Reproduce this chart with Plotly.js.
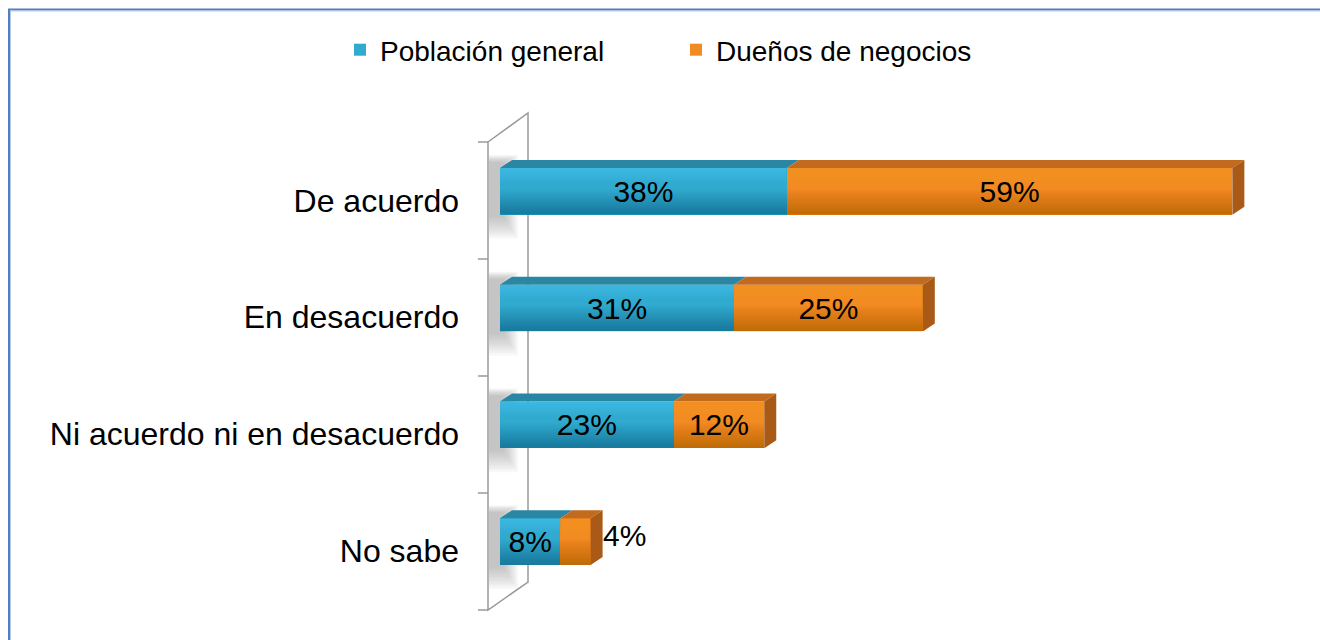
<!DOCTYPE html>
<html>
<head>
<meta charset="utf-8">
<script src="https://cdn.plot.ly/plotly-3.0.1.min.js"></script>
<style>
  html, body { margin: 0; padding: 0; background: #ffffff; }
  #chart { width: 1320px; height: 640px; }
</style>
</head>
<body>
<div id="chart"></div>
<script>
// ---- data ----
const categories = ["De acuerdo", "En desacuerdo", "Ni acuerdo ni en desacuerdo", "No sabe"];
const seriesNames = ["Población general", "Dueños de negocios"];
const poblacionGeneral = [38, 31, 23, 8];
const duenosNegocios = [59, 25, 12, 4];
const duenosLabelOutside = [false, false, false, true];

// ---- layout geometry (pixels) ----
const FIG_W = 1320, FIG_H = 640;
const L = 500, T = 133, W = 755, H = 467;
const X_MAX = 100;
const BARGAP = 0.6;
const DEPTH_X = 12, DEPTH_Y = 8;

const band = H / categories.length;
const halfBar = (1 - BARGAP) * band / 2;
const pxPerUnit = W / X_MAX;
const dx = DEPTH_X / pxPerUnit;

function pX(p) { return (p - L) / W; }
function pY(p) { return 1 - (p - T) / H; }
function yCenter(i) { return T + (i + 0.5) * band; }

const BLUE = "#31aacf", BLUE_TOP = "#2a86a2", BLUE_HI = "#44c8ee";
const ORANGE = "#f28b21", ORANGE_TOP = "#c26a1e", ORANGE_SIDE = "#a95a17", ORANGE_HI = "#ff9f30";

const shapes = [];

// page border (top + left)
shapes.push({type: "path", xref: "paper", yref: "paper", layer: "below",
  path: `M ${pX(9)},${pY(FIG_H + 5)} L ${pX(9)},${pY(9.5)} L ${pX(FIG_W + 5)},${pY(9.5)}`,
  line: {color: "#4f7fc0", width: 2}});
shapes.push({type: "path", xref: "paper", yref: "paper", layer: "below",
  path: `M ${pX(10.5)},${pY(FIG_H + 5)} L ${pX(10.5)},${pY(11)} L ${pX(FIG_W + 5)},${pY(11)}`,
  line: {color: "#b7cbe8", width: 1}});

// wall shadows behind bars (soft)
categories.forEach((c, i) => {
  const yc = yCenter(i);
  for (let k = 0; k < 10; k++) {
    shapes.push({type: "rect", xref: "paper", yref: "paper", layer: "below",
      x0: pX(489), x1: pX(500 + 18 - k * 1.6),
      y0: pY(yc - halfBar - DEPTH_Y - 5 + k * 0.8), y1: pY(yc + halfBar + 24 - k * 2.4),
      fillcolor: "#7a7a7a", opacity: 0.055, line: {width: 0}});
  }
});

// 3D wall outline
const wallFront = 488, wallBack = 528;
const wallTopF = 142, wallBotF = 610, wallTopB = 113, wallBotB = 582;
shapes.push({type: "path", xref: "paper", yref: "paper", layer: "below",
  path: `M ${pX(wallFront)},${pY(wallTopF)} L ${pX(wallBack)},${pY(wallTopB)} L ${pX(wallBack)},${pY(wallBotB)} L ${pX(wallFront)},${pY(wallBotF)} Z`,
  line: {color: "#9a9a9a", width: 1.5}});
for (let k = 0; k <= categories.length; k++) {
  const yy = wallTopF + k * (wallBotF - wallTopF) / categories.length;
  shapes.push({type: "line", xref: "paper", yref: "paper", layer: "below",
    x0: pX(wallFront - 10), x1: pX(wallFront), y0: pY(yy), y1: pY(yy),
    line: {color: "#9a9a9a", width: 1.5}});
}

// 3D faces and shading of bars (built from data)
const annotations = [];
categories.forEach((c, i) => {
  const yc = yCenter(i);
  const top = yc - halfBar, bot = yc + halfBar;
  const yT = pY(top), yT2 = pY(top - DEPTH_Y);
  const yB = pY(bot), yB2 = pY(bot - DEPTH_Y);
  const s0 = 0, s1 = poblacionGeneral[i], s2 = poblacionGeneral[i] + duenosNegocios[i];
  // front face: smooth lighter upper part
  for (let k = 0; k < 14; k++) {
    shapes.push({type: "rect", xref: "x", yref: "paper", layer: "above",
      x0: s0, x1: s1, y0: pY(top), y1: pY(top + 1 + k),
      fillcolor: BLUE_HI, opacity: 0.07, line: {width: 0}});
    shapes.push({type: "rect", xref: "x", yref: "paper", layer: "above",
      x0: s1, x1: s2, y0: pY(top), y1: pY(top + 1 + k),
      fillcolor: ORANGE_HI, opacity: 0.07, line: {width: 0}});
  }
  // smooth darker gradient toward the bottom
  for (let k = 0; k < 26; k++) {
    shapes.push({type: "rect", xref: "x", yref: "paper", layer: "above",
      x0: s0, x1: s2, y0: pY(bot - 1 - k), y1: pY(bot),
      fillcolor: "#000000", opacity: 0.008, line: {width: 0}});
  }
  // top faces
  shapes.push({type: "path", xref: "x", yref: "paper", layer: "above",
    path: `M ${s0},${yT} L ${s1},${yT} L ${s1 + dx},${yT2} L ${s0 + dx},${yT2} Z`,
    fillcolor: BLUE_TOP, line: {width: 0}});
  shapes.push({type: "path", xref: "x", yref: "paper", layer: "above",
    path: `M ${s1},${yT} L ${s2},${yT} L ${s2 + dx},${yT2} L ${s1 + dx},${yT2} Z`,
    fillcolor: ORANGE_TOP, line: {width: 0}});
  // right side face
  shapes.push({type: "path", xref: "x", yref: "paper", layer: "above",
    path: `M ${s2},${yT} L ${s2 + dx},${yT2} L ${s2 + dx},${yB2} L ${s2},${yB} Z`,
    fillcolor: ORANGE_SIDE, line: {width: 0}});
  // outside label (beyond the 3D side face)
  if (duenosLabelOutside[i]) {
    annotations.push({xref: "x", yref: "y", x: s2, y: c, xanchor: "left", yanchor: "middle",
      xshift: DEPTH_X - 2, yshift: 6, showarrow: false, text: duenosNegocios[i] + "%",
      font: {family: "Liberation Sans, Arial, sans-serif", size: 30, color: "#000000"}});
  }
});

const fontFam = "Liberation Sans, Arial, sans-serif";

const traces = [
  {type: "bar", orientation: "h", name: seriesNames[0], y: categories, x: poblacionGeneral,
   marker: {color: BLUE, line: {width: 0}},
   texttemplate: "%{x}%", textposition: "inside", insidetextanchor: "middle",
   constraintext: "none", textfont: {family: fontFam, size: 30, color: "#000000"},
   hoverinfo: "skip"},
  {type: "bar", orientation: "h", name: seriesNames[1], y: categories, x: duenosNegocios,
   marker: {color: ORANGE, line: {width: 0}},
   texttemplate: "%{x}%", textposition: duenosLabelOutside.map(o => o ? "none" : "inside"),
   insidetextanchor: "middle", constraintext: "none",
   textfont: {family: fontFam, size: 30, color: "#000000"},
   hoverinfo: "skip"}
];

const layout = {
  width: FIG_W, height: FIG_H,
  margin: {l: L, t: T, r: FIG_W - L - W, b: FIG_H - T - H, pad: 0},
  paper_bgcolor: "#ffffff", plot_bgcolor: "rgba(0,0,0,0)",
  barmode: "stack", bargap: BARGAP,
  showlegend: true,
  legend: {orientation: "h", x: pX(676), xanchor: "center", y: pY(50), yanchor: "middle",
    font: {family: fontFam, size: 28, color: "#000000"},
    traceorder: "normal", entrywidth: 291, entrywidthmode: "pixels", itemwidth: 30},
  xaxis: {range: [0, X_MAX], visible: false, fixedrange: true},
  yaxis: {type: "category", categoryarray: categories, range: [categories.length - 0.5, -0.5],
    showline: false, showgrid: false, zeroline: false, ticks: "",
    ticklabelstandoff: 40, ticklabelshift: -9,
    tickfont: {family: fontFam, size: 32, color: "#000000"}, fixedrange: true},
  shapes: shapes,
  annotations: annotations
};

Plotly.newPlot("chart", traces, layout, {staticPlot: true, displayModeBar: false});
</script>
</body>
</html>
